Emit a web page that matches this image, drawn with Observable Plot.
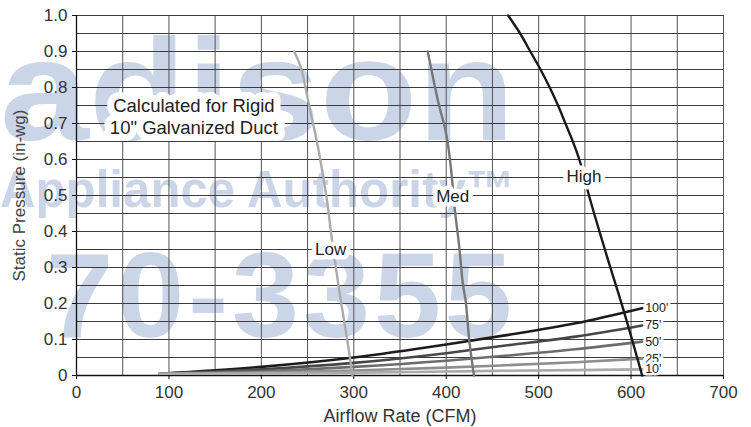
<!DOCTYPE html>
<html>
<head>
<meta charset="utf-8">
<script src="https://cdn.jsdelivr.net/npm/d3@7"></script>
<script src="https://cdn.jsdelivr.net/npm/@observablehq/plot@0.6"></script>
<style>
  body { margin: 0; background: #fff; }
  #wrap { position: relative; width: 751px; height: 427px; overflow: hidden; font-family: "Liberation Sans", Arial, sans-serif; }
  #wm { position: absolute; left: 0; top: 0; }
  #chart { position: absolute; left: 0; top: 0; }
  #chart svg { background: transparent; }
</style>
</head>
<body>
<div id="wrap">
  <svg id="wm" width="751" height="427" aria-hidden="true">
    <g fill="#cbd5e8" font-family="Liberation Sans, Arial, sans-serif" font-weight="bold">
      <text x="0" y="140" font-size="145" textLength="515" lengthAdjust="spacingAndGlyphs">adison</text>
      <text x="0" y="207" font-size="52" textLength="515" lengthAdjust="spacingAndGlyphs">Appliance Authority™</text>
      <text x="46" y="337" font-size="121" textLength="466" lengthAdjust="spacing">70-3355</text>
    </g>
  </svg>
  <div id="chart"></div>
</div>
<script>
// ---- data ----
const xTicks = [0, 100, 200, 300, 400, 500, 600, 700];
const yTicks = [0, 0.1, 0.2, 0.3, 0.4, 0.5, 0.6, 0.7, 0.8, 0.9, 1.0];
const xGrid = [0, 50, 100, 150, 200, 250, 300, 350, 400, 450, 500, 550, 600, 650, 700];
const yGrid = [0, 0.05, 0.1, 0.15, 0.2, 0.25, 0.3, 0.35, 0.4, 0.45, 0.5, 0.55, 0.6, 0.65, 0.7, 0.75, 0.8, 0.85, 0.9, 0.95, 1.0];

// fan curves (CFM, static pressure)
const highCFM = [467, 480, 491, 502, 512, 521, 529, 537, 544, 556, 574, 592, 612];
const highSP  = [1.0, 0.95, 0.9, 0.85, 0.8, 0.75, 0.7, 0.65, 0.6, 0.486, 0.33, 0.18, 0];
const medCFM  = [380, 391, 400, 405, 409, 414, 418, 421, 425, 430];
const medSP   = [0.9, 0.764, 0.671, 0.579, 0.468, 0.36, 0.255, 0.208, 0.097, 0];
const lowCFM  = [235.5, 242.7, 251.7, 262, 271, 276, 280, 286, 293, 298.7];
const lowSP   = [0.9, 0.856, 0.75, 0.625, 0.486, 0.384, 0.31, 0.208, 0.097, 0];

// duct system curves
const ductCFM = [90, 200, 300, 400, 460, 540, 612];
const duct100 = [0.005, 0.024, 0.05, 0.086, 0.11, 0.145, 0.187];
const duct75  = [0.005, 0.017, 0.035, 0.062, 0.082, 0.108, 0.139];
const duct50  = [0.005, 0.012, 0.024, 0.041, 0.054, 0.073, 0.094];
const duct25  = [0.005, 0.008, 0.014, 0.022, 0.028, 0.037, 0.047];
const duct10  = [0.005, 0.006, 0.008, 0.011, 0.013, 0.015, 0.017];
const ductNames = ["100'", "75'", "50'", "25'", "10'"];
const ductColors = ["#1c1c1c", "#474747", "#6c6c6c", "#8e8e8e", "#aaaaaa"];

const fanNames = ["High", "Med", "Low"];
const fanColors = ["#1a1a1a", "#777777", "#ababab"];
// label anchor points for the fan curves (CFM, SP)
const fanLabelCFM = [549, 407, 275];
const fanLabelSP  = [0.553, 0.497, 0.35];

const noteLines = "Calculated for Rigid\n10\" Galvanized Duct";
const noteCFM = 127;
const noteSP = 0.722;

// ---- build tables ----
const fanSeries = [
  {name: "High", cfm: highCFM, sp: highSP},
  {name: "Med", cfm: medCFM, sp: medSP},
  {name: "Low", cfm: lowCFM, sp: lowSP}
];
const fanRows = fanSeries.flatMap(s => s.cfm.map((c, i) => ({name: s.name, cfm: c, sp: s.sp[i]})));
const ductSeries = [duct100, duct75, duct50, duct25, duct10];
const ductRows = ductSeries.flatMap((arr, k) => arr.map((v, i) => ({name: ductNames[k], cfm: ductCFM[i], sp: v})));
const ductEnds = ductSeries.map((arr, k) => ({name: ductNames[k], cfm: ductCFM[ductCFM.length - 1], sp: arr[arr.length - 1]}));
const fanLabels = fanNames.map((n, i) => ({name: n, cfm: fanLabelCFM[i], sp: fanLabelSP[i]}));

const font = "Liberation Sans, Arial, Helvetica, sans-serif";

const plot = Plot.plot({
  width: 751,
  height: 427,
  marginLeft: 76,
  marginRight: 28,
  marginTop: 15,
  marginBottom: 52,
  style: {fontFamily: font, background: "transparent", overflow: "visible"},
  x: {domain: [0, 700]},
  y: {domain: [0, 1]},
  color: {domain: ductNames.concat(fanNames), range: ductColors.concat(fanColors)},
  marks: [
    Plot.gridX(xGrid, {stroke: "#555", strokeOpacity: 1, strokeWidth: 1}),
    Plot.gridY(yGrid, {stroke: "#3c3c3c", strokeOpacity: 1, strokeWidth: 1}),
    Plot.ruleY([0], {stroke: "#111", strokeWidth: 1.3}),
    Plot.ruleX([0], {stroke: "#111", strokeWidth: 1.3}),
    Plot.axisX(xTicks, {tickSize: 4, tickPadding: 6, fontSize: 17, fill: "#333", stroke: "#111", label: null}),
    Plot.axisY(yTicks, {tickSize: 4, tickPadding: 5, fontSize: 17, fill: "#333", stroke: "#111", label: null,
      tickFormat: d => d === 0 ? "0" : d.toFixed(1)}),
    Plot.line(ductRows, {x: "cfm", y: "sp", z: "name", stroke: "name", strokeWidth: 2.6, curve: "monotone-x"}),
    Plot.line(fanRows, {x: "cfm", y: "sp", z: "name", stroke: "name", strokeWidth: 2.4, curve: "catmull-rom"}),
    Plot.text(ductEnds, {x: "cfm", y: "sp", text: "name", textAnchor: "start", dx: 3, fontSize: 12.5, fill: "#222", stroke: "white", strokeWidth: 5}),
    Plot.text(fanLabels, {x: "cfm", y: "sp", text: "name", fontSize: 17, fill: "#222", stroke: "white", strokeWidth: 9}),
    Plot.text([noteLines], {x: () => noteCFM, y: () => noteSP, text: d => d, fontSize: 18.5, lineHeight: 1.2, fill: "#222", stroke: "white", strokeWidth: 14}),
    Plot.text(["Airflow Rate (CFM)"], {frameAnchor: "bottom", textAnchor: "middle", lineAnchor: "middle", dy: 41, fontSize: 18, fill: "#333"}),
    Plot.text(["Static Pressure (in-wg)"], {frameAnchor: "left", textAnchor: "middle", lineAnchor: "middle", rotate: -90, dx: -57, fontSize: 17, fill: "#444"})
  ]
});
document.getElementById("chart").appendChild(plot);
</script>
</body>
</html>
